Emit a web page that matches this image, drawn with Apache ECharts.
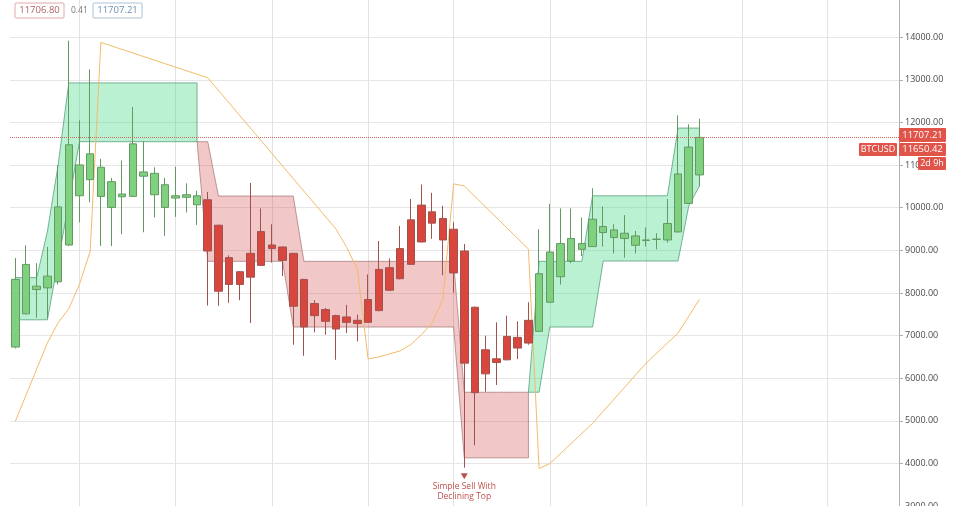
<!DOCTYPE html>
<html>
<head>
<meta charset="utf-8">
<script src="https://cdn.jsdelivr.net/npm/echarts@6/dist/echarts.min.js"></script>
<style>html,body{margin:0;padding:0;background:#fff}#c{width:960px;height:506px}</style>
</head>
<body>
<div id="c"></div>
<script>
// ---- data (weekly BTCUSD candles) ----
const candleOpen = [6730,7510,8080,8120,8263,9126,11006,10659,10950,10008,10321,10267,10840,10807,10540,10227,10305,10281,
  10187,9590,8200,8499,8371,8647,9126,9079,8930,8317,7468,7610,7468,7310,7358,7310,7586,8593,8334,8671,10062,9638,9748,9496,
  8985,7665,6101,6455,6431,6957,6824,
  7099,7782,9159,8749,9159,9088,9559,9480,9277,9339,9230,9255,9244,9433,10102,10770];
const candleClose = [8320,8670,8160,8395,10020,11477,10281,11265,10266,10612,10258,11500,10740,10305,10008,10281,10245,10069,
  8985,8041,8829,8200,8930,9440,9041,8765,7688,7202,7751,7334,7154,7437,7280,7846,8553,8064,9041,9716,9197,9904,9244,8470,
  6353,5660,6667,6367,6980,6707,7358,
  8452,8961,8381,9277,9024,9731,9418,9300,9402,9119,9245,9265,9630,10793,11423,11650.42];
const candleLow = [6700,7500,7420,7400,8200,9100,9655,10126,9103,9100,9378,10250,9425,9772,9338,9787,9890,9598,
  7704,7700,7768,7830,7297,8640,8711,8395,6785,6525,7075,7020,6431,7060,6862,7300,7570,8050,8320,8660,9190,9270,8415,8004,
  3900,4427,5683,5841,6420,6447,6785,
  7090,7770,8199,8700,8867,9080,9088,8930,8829,8930,9088,9024,9182,9420,10090,10503];
const candleHigh = [8820,9120,8700,9080,11000,13920,12050,13245,11147,10700,11107,12366,11564,10950,10700,10966,10574,10400,
  10370,9600,8883,8510,10581,9984,9614,9090,8940,8330,7830,7650,7490,7720,7492,8435,9220,8810,9574,10204,10545,10350,10045,9661,
  9150,7680,6997,7311,7468,7334,7782,
  9496,10090,9984,9984,9772,10457,10032,9614,9826,9456,9536,9402,10204,12170,11960,12090];
// trend regime per candle
const regime = [
  'up','up','up','up','up','up','up','up','up','up','up','up','up','up','up','up','up','up',
  'down','down','down','down','down','down','down','down','down','down','down','down','down','down','down','down','down','down','down','down','down','down','down','down',
  'down','down','down','down','down','down','down',
  'up','up','up','up','up','up','up','up','up','up','up','up','up','up','up','up'];
// box band (upper / lower) per candle
const bandUpper = [8360,8360,8360,9450,11000,
  12930,12930,12930,12930,12930,12930,12930,12930,12930,12930,12930,12930,12930,
  11550,
  10275,10275,10275,10275,10275,10275,10275,10275,
  8742,8742,8742,8742,8742,8742,8742,8742,8742,8742,8742,8742,8742,8742,8742,
  5670,5670,5670,5670,5670,5670,5670,
  8742,8742,8742,8742,8742,
  10280,10280,10280,10280,10280,10280,10280,10280,
  11870,11870,11870];
const bandLower = [7370,7370,7370,7370,8740,10110,
  11550,11550,11550,11550,11550,11550,11550,11550,11550,11550,11550,11550,
  8742,8742,8742,8742,8742,8742,8742,8742,
  7200,7200,7200,7200,7200,7200,7200,7200,7200,7200,7200,7200,7200,7200,7200,7200,
  4130,4130,4130,4130,4130,4130,4130,
  5670,
  7200,7200,7200,7200,7200,
  8750,8750,8750,8750,8750,8750,8750,8750,
  10040,10510];
// orange trailing line vertices: candle index and value
const trailIdx = [0,3,4,5,6,7,8,18,30,31,32,33,34,36,37,38,39,40,41,42,48,49,50,54,59,62,64];
const trailVal = [4990,6830,7300,7630,8200,8980,13880,13050,9500,9070,8550,6450,6500,6640,6790,7020,7300,7850,10560,10510,9030,3880,3995,4940,6350,7060,7850];
// vertical time grid lines (candle index)
const timeGridIdx = [6,15,24,33,41,50,59,68,76];
// price labels
const lastPrice = 11650.42;
const askPrice = 11707.21;
const bidPrice = 11706.80;
const spread = '0.41';
const symbolName = 'BTCUSD';
const countdown = '2d 9h';
const signalIdx = 42;
const signalValue = 3700;
const signalText = 'Simple Sell With\nDeclining Top';

// ---- build ----
const upRows = [], downRows = [];
for (let i = 0; i < candleOpen.length; i++) {
  const row = [i, candleOpen[i], candleClose[i], candleLow[i], candleHigh[i]];
  (regime[i] === 'up' ? upRows : downRows).push(row);
}
const runs = [];
let s0 = 0;
for (let i = 1; i <= regime.length; i++) {
  if (i === regime.length || regime[i] !== regime[s0]) {
    runs.push([s0, i - 1, regime[s0] === 'up' ? 1 : 0]);
    s0 = i;
  }
}
const trailData = trailIdx.map((x, k) => [x, trailVal[k]]);

const GREEN = '#7fd07f', GREEN_B = '#629a62';
const RED = '#d9463d', RED_B = '#a0524d';

const chart = echarts.init(document.getElementById('c'), null, {renderer: 'canvas'});
const option = {
  animation: false,
  backgroundColor: '#ffffff',
  grid: {left: 10, right: 61, top: -5.3, bottom: 0, outerBoundsMode: 'none', containLabel: false},
  xAxis: {
    type: 'value', min: -0.5, max: 82.67,
    axisLine: {show: false}, axisTick: {show: false}, axisLabel: {show: false}, splitLine: {show: false}
  },
  yAxis: {
    type: 'value', position: 'right', min: 3000, max: 15000, interval: 1000,
    axisLine: {show: true, onZero: false, lineStyle: {color: '#b0b0b0'}},
    axisTick: {show: true, length: 4, lineStyle: {color: '#b0b0b0'}},
    axisLabel: {color: '#4a4a4a', fontSize: 9, fontFamily: 'Open Sans', margin: 6,
      formatter: v => v.toFixed(2)},
    splitLine: {show: true, lineStyle: {color: '#e6e6e6'}}
  },
  series: [
    {
      type: 'custom', name: 'band', z: 1, silent: true,
      data: runs,
      encode: {x: [0, 1], y: 2},
      renderItem: function (params, api) {
        const s = api.value(0), e = api.value(1), up = api.value(2) === 1;
        const pts = [];
        if (s > 0) pts.push(api.coord([s - 1, up ? bandLower[s] : bandUpper[s]]));
        for (let i = s; i <= e; i++) pts.push(api.coord([i, bandUpper[i]]));
        for (let i = e; i >= s; i--) pts.push(api.coord([i, bandLower[i]]));
        return {
          type: 'polygon', shape: {points: pts},
          style: {
            fill: up ? 'rgba(56,214,128,0.35)' : 'rgba(214,80,80,0.32)',
            stroke: up ? 'rgba(70,150,110,0.7)' : 'rgba(150,95,95,0.6)',
            lineWidth: 1
          }
        };
      },
      markLine: {
        z: 0, silent: true, symbol: ['none', 'none'], label: {show: false},
        lineStyle: {color: '#e2e2e2', width: 1, type: 'solid'},
        data: timeGridIdx.map(i => ({xAxis: i}))
      }
    },
    {
      type: 'line', name: 'trail', z: 2, silent: true,
      data: trailData, symbol: 'none',
      lineStyle: {color: '#f2bb6a', width: 1}
    },
    {
      type: 'candlestick', name: 'up', z: 3,
      data: upRows, encode: {x: 0, y: [1, 2, 3, 4]}, barWidth: 8,
      itemStyle: {color: GREEN, color0: GREEN, borderColor: GREEN_B, borderColor0: GREEN_B, borderColorDoji: GREEN_B, borderWidth: 1},
      markLine: {
        silent: true, symbol: ['none', 'none'], label: {show: false},
        lineStyle: {color: '#c76a5c', width: 1, type: 'dotted'},
        data: [{yAxis: lastPrice}]
      }
    },
    {
      type: 'candlestick', name: 'down', z: 3,
      data: downRows, encode: {x: 0, y: [1, 2, 3, 4]}, barWidth: 8,
      itemStyle: {color: RED, color0: RED, borderColor: RED_B, borderColor0: RED_B, borderColorDoji: RED_B, borderWidth: 1},
      markPoint: {
        silent: true,
        data: [{
          coord: [signalIdx, signalValue], symbol: 'triangle', symbolRotate: 180, symbolSize: [7, 6],
          itemStyle: {color: '#c0504d'},
          label: {show: true, position: 'bottom', distance: 3, formatter: signalText,
            color: '#c0504d', fontSize: 8.5, lineHeight: 9.5, fontFamily: 'Open Sans'}
        }]
      }
    }
  ]
};
chart.setOption(option);

// ---- price tags on the axis and header boxes ----
const yAsk = chart.convertToPixel({yAxisIndex: 0}, askPrice);
const axisX = chart.convertToPixel({xAxisIndex: 0}, 82.67);
const tagRed = '#e0544a';
function box(x, y, w, h, fill, stroke, text, color, size) {
  return {
    type: 'group', x: x, y: y, z: 100, children: [
      {type: 'rect', z: 100, shape: {x: 0, y: 0, width: w, height: h, r: 1}, style: {fill: fill, stroke: stroke, lineWidth: 1}},
      {type: 'text', z: 101, x: w / 2, y: h / 2, style: {text: text, fill: color, font: size + 'px "Open Sans"', align: 'center', verticalAlign: 'middle'}}
    ]
  };
}
chart.setOption({
  graphic: {
    elements: [
      box(axisX, yAsk - 7, 47, 14, tagRed, null, askPrice.toFixed(2), '#ffffff', 9.5),
      box(axisX - 40, yAsk + 8, 38, 13, tagRed, null, symbolName, '#ffffff', 9),
      box(axisX, yAsk + 8, 47, 13, tagRed, null, lastPrice.toFixed(2), '#ffffff', 9.5),
      box(axisX + 19, yAsk + 22, 28, 13, tagRed, null, countdown, '#ffffff', 9),
      box(15, 3, 49, 15, '#ffffff', '#e2a9a6', bidPrice.toFixed(2), '#b06060', 9.5),
      {type: 'text', x: 71, y: 6, z: 100, style: {text: spread, fill: '#777777', font: '8.5px "Open Sans"'}},
      box(93, 3, 49, 15, '#ffffff', '#a9c3d6', askPrice.toFixed(2), '#6d8fb0', 9.5)
    ]
  }
});
</script>
</body>
</html>
